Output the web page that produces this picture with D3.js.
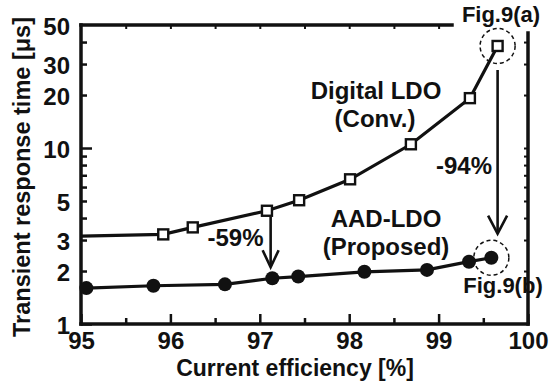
<!DOCTYPE html>
<html>
<head>
<meta charset="utf-8">
<script src="https://cdn.jsdelivr.net/npm/d3@7"></script>
<style>
  html, body { margin: 0; padding: 0; background: #fff; }
  svg { display: block; }
  text { font-family: "Liberation Sans", Arial, Helvetica, sans-serif; font-weight: bold; fill: #111; }
</style>
</head>
<body>
<svg id="chart" width="549" height="385"></svg>
<script>
// Current efficiency [%] and transient response time [µs]
const digitalEff  = [94.6, 95.92, 96.25, 97.08, 97.44, 98.01, 98.69, 99.35, 99.66];
const digitalTime = [3.13, 3.23, 3.54, 4.40, 5.05, 6.64, 10.5, 19.2, 38.0];
const aadEff  = [95.06, 95.81, 96.61, 97.14, 97.43, 98.17, 98.87, 99.34, 99.59];
const aadTime = [1.60, 1.65, 1.68, 1.82, 1.86, 1.98, 2.03, 2.26, 2.38];

const xTicks = [95, 96, 97, 98, 99, 100];
const xMinorTicks = [95.5, 96.5, 97.5, 98.5, 99.5];
const yTickLabels = [1, 2, 3, 5, 10, 20, 30, 50];
const yMajorTicks = [1, 10];
const yMinorTicks = [2, 3, 4, 5, 6, 7, 8, 9, 20, 30, 40];

const reductionLabels = ["-59%", "-94%"];

const svg = d3.select("#chart");
const m = { left: 81, right: 528, top: 25, bottom: 324 };

const x = d3.scaleLinear().domain([95, 100]).range([m.left, m.right]);
const y = d3.scaleLog().domain([1, 50]).range([m.bottom, m.top]);

const FS = 24;

// Bottom axis: labelled integer ticks pointing inward, plus half-step minors
const gx = svg.append("g").attr("transform", `translate(0,${m.bottom})`);
gx.call(d3.axisBottom(x).tickValues(xTicks).tickFormat(d3.format("d"))
  .tickSizeInner(-10).tickSizeOuter(0).tickPadding(8));
gx.append("g").call(d3.axisBottom(x).tickValues(xMinorTicks).tickFormat("")
  .tickSizeInner(-6).tickSizeOuter(0));
gx.selectAll(".domain").remove();
gx.selectAll("text").style("font-size", FS + "px").attr("fill", "#111");
gx.selectAll("line").attr("stroke", "#111").attr("stroke-width", 2.5);

// Left axis: log ticks
const gy = svg.append("g").attr("transform", `translate(${m.left},0)`);
gy.call(d3.axisLeft(y).tickValues(yTickLabels).tickFormat(d3.format("d"))
  .tickSize(0).tickPadding(11));
gy.append("g").call(d3.axisLeft(y).tickValues(yMajorTicks).tickFormat("")
  .tickSizeInner(-11).tickSizeOuter(0));
gy.append("g").call(d3.axisLeft(y).tickValues(yMinorTicks).tickFormat("")
  .tickSizeInner(-6).tickSizeOuter(0));
gy.selectAll(".domain").remove();
gy.selectAll("text").style("font-size", FS + "px").attr("fill", "#111").attr("dy", "0.4em");
gy.selectAll("line").attr("stroke", "#111").attr("stroke-width", 2.5);

// Top axis ticks (small, inward)
const gt = svg.append("g").attr("transform", `translate(0,${m.top})`);
gt.call(d3.axisTop(x).tickValues(xTicks.concat(xMinorTicks).filter(v => x(v) < 450 && v > 95))
  .tickFormat("").tickSizeInner(-4).tickSizeOuter(0));
gt.selectAll(".domain").remove();
gt.selectAll("line").attr("stroke", "#111").attr("stroke-width", 2);

// Right axis ticks (small, inward)
const gr = svg.append("g").attr("transform", `translate(${m.right},0)`);
gr.call(d3.axisRight(y).tickValues(yMinorTicks.concat([10]).filter(v => y(v) > 36))
  .tickFormat("").tickSizeInner(-4).tickSizeOuter(0));
gr.selectAll(".domain").remove();
gr.selectAll("line").attr("stroke", "#111").attr("stroke-width", 2);

// Frame (top edge is interrupted by the Fig.9(a) tag)
const frame = svg.append("g").attr("stroke", "#111").attr("stroke-width", 3.5)
  .attr("stroke-linecap", "square").attr("fill", "none");
frame.append("line").attr("x1", m.left).attr("x2", m.left).attr("y1", m.top).attr("y2", m.bottom);
frame.append("line").attr("x1", m.left).attr("x2", m.right).attr("y1", m.bottom).attr("y2", m.bottom);
frame.append("line").attr("x1", m.left).attr("x2", 452).attr("y1", m.top).attr("y2", m.top);
frame.append("line").attr("x1", m.right).attr("x2", m.right).attr("y1", 33).attr("y2", m.bottom);

// Axis titles
svg.append("text").attr("x", 295).attr("y", 375.5)
  .attr("text-anchor", "middle").style("font-size", "23px")
  .text("Current efficiency [%]");
svg.append("text").attr("transform", `translate(30,177) rotate(-90)`)
  .attr("text-anchor", "middle").style("font-size", "23.5px")
  .text("Transient response time [μs]");

// Data series
svg.append("clipPath").attr("id", "plotClip").append("rect")
  .attr("x", m.left).attr("y", m.top).attr("width", m.right - m.left).attr("height", m.bottom - m.top);

const digital = digitalEff.map((e, i) => ({ e, t: digitalTime[i] }));
const aad = aadEff.map((e, i) => ({ e, t: aadTime[i] }));
const line = d3.line().x(d => x(d.e)).y(d => y(d.t));

svg.append("path").datum(digital).attr("d", line).attr("clip-path", "url(#plotClip)")
  .attr("fill", "none").attr("stroke", "#111").attr("stroke-width", 3.2);
svg.append("path").datum(aad).attr("d", line)
  .attr("fill", "none").attr("stroke", "#111").attr("stroke-width", 3.2);

const sq = 10;
svg.append("g").selectAll("rect").data(digital.filter(d => d.e >= 95)).join("rect")
  .attr("x", d => x(d.e) - sq / 2).attr("y", d => y(d.t) - sq / 2)
  .attr("width", sq).attr("height", sq)
  .attr("fill", "#fff").attr("stroke", "#111").attr("stroke-width", 2.4);
svg.append("g").selectAll("circle").data(aad).join("circle")
  .attr("cx", d => x(d.e)).attr("cy", d => y(d.t)).attr("r", 7).attr("fill", "#111");

// Dashed highlight rings around the last points
const lastD = digital[digital.length - 1], lastA = aad[aad.length - 1];
[lastD, lastA].forEach(p => {
  svg.append("circle").attr("cx", x(p.e)).attr("cy", y(p.t)).attr("r", 17.5)
    .attr("fill", "none").attr("stroke", "#111").attr("stroke-width", 1.5)
    .attr("stroke-dasharray", "4,3");
});

// Reduction arrows
function arrow(xp, y1, y2, hw, hl) {
  const g = svg.append("g").attr("stroke", "#111").attr("stroke-width", 2.6).attr("fill", "none");
  g.append("line").attr("x1", xp).attr("x2", xp).attr("y1", y1).attr("y2", y2 - 1);
  g.append("path").attr("d", `M${xp - hw},${y2 - hl} L${xp},${y2} L${xp + hw},${y2 - hl}`)
    .attr("stroke-linejoin", "miter");
}
const d59 = digital[3], a59 = aad[3];
arrow((x(d59.e) + x(a59.e)) / 2 + 1, y(d59.t) + 6, y(a59.t) - 11, 8, 17);
arrow(x(lastD.e), y(lastD.t) + 24, y(lastA.t) - 24, 9.5, 18);

// Annotations
const ann = [
  { t: "Digital LDO", x: 376, y: 99 },
  { t: "(Conv.)", x: 375, y: 127 },
  { t: "AAD-LDO", x: 386, y: 227 },
  { t: "(Proposed)", x: 386, y: 255 },
  { t: reductionLabels[0], x: 235.5, y: 246 },
  { t: reductionLabels[1], x: 464, y: 174 },
  { t: "Fig.9(a)", x: 501, y: 22 },
  { t: "Fig.9(b)", x: 503, y: 293 }
];
svg.append("g").selectAll("text").data(ann).join("text")
  .attr("x", d => d.x).attr("y", d => d.y).attr("text-anchor", "middle")
  .style("font-size", d => (d.t.startsWith("Fig") ? 22 : FS) + "px").text(d => d.t);
</script>
</body>
</html>
